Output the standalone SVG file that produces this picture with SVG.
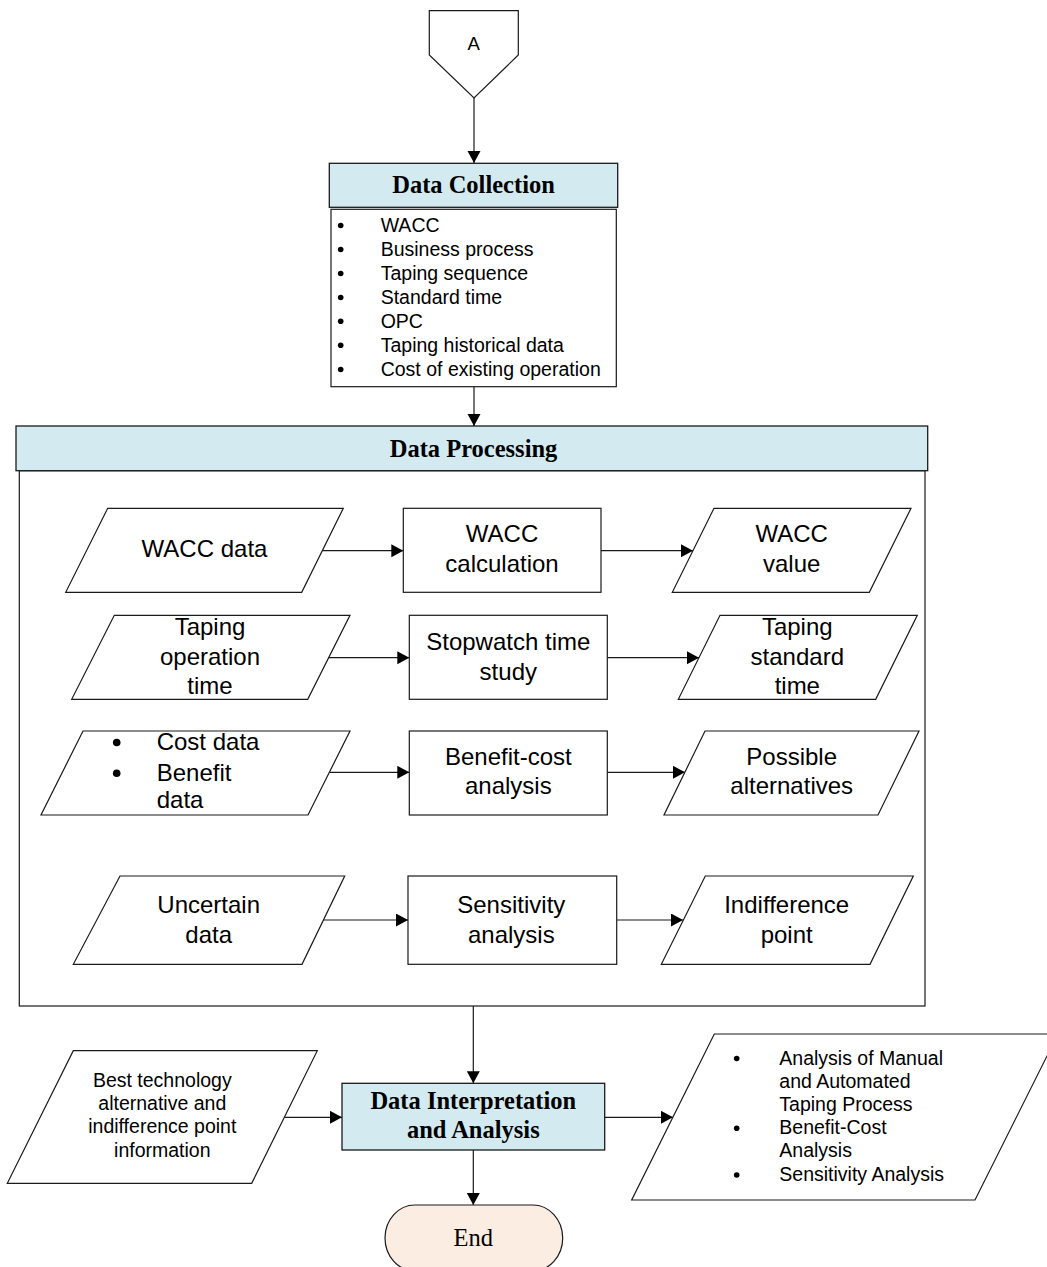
<svg xmlns="http://www.w3.org/2000/svg" width="1047" height="1267" viewBox="0 0 1047 1267">
<style>
.sh{fill:#ffffff;stroke:#1a1a1a;stroke-width:1.2}
.hd{fill:#d3eaf0;stroke:#1a1a1a;stroke-width:1.3}
.t{font-family:"Liberation Sans",Arial,sans-serif;font-size:24px;fill:#000;text-anchor:middle}
.s{font-family:"Liberation Sans",Arial,sans-serif;font-size:19.5px;fill:#000}
.sc{font-family:"Liberation Sans",Arial,sans-serif;font-size:19.5px;fill:#000;text-anchor:middle}
.b{font-family:"Liberation Serif","Times New Roman",serif;font-size:24.5px;font-weight:bold;fill:#000;text-anchor:middle}
.ln{stroke:#1a1a1a;stroke-width:1.2;fill:none;marker-end:url(#ah)}
.dot{fill:#000}
</style>
<defs>
<marker id="ah" markerUnits="userSpaceOnUse" markerWidth="13" markerHeight="14" refX="12" refY="6.5" orient="auto">
<path d="M0,0 L12,6.5 L0,13 z" fill="#000"/>
</marker>
</defs>

<g id="data-processing">
<rect class="sh" x="19.3" y="470.7" width="905.7" height="535.3"/>
<rect class="hd" x="16" y="426" width="911.7" height="44.7"/>
<text class="b" x="473.5" y="456.5">Data Processing</text>
</g>

<g id="connectors">
<line class="ln" x1="474" y1="98" x2="474" y2="163"/>
<line class="ln" x1="474" y1="387" x2="474" y2="426"/>
<line class="ln" x1="322.5" y1="550.7" x2="403.3" y2="550.7"/>
<line class="ln" x1="601" y1="550.7" x2="693" y2="550.7"/>
<line class="ln" x1="329" y1="657.7" x2="409.3" y2="657.7"/>
<line class="ln" x1="607.3" y1="657.7" x2="699" y2="657.7"/>
<line class="ln" x1="330" y1="772.3" x2="409.3" y2="772.3"/>
<line class="ln" x1="607.3" y1="772.3" x2="685" y2="772.3"/>
<line class="ln" x1="323.5" y1="920" x2="408" y2="920"/>
<line class="ln" x1="616.7" y1="920" x2="683" y2="920"/>
<line class="ln" x1="473.3" y1="1006" x2="473.3" y2="1083.3"/>
<line class="ln" x1="284.4" y1="1117.3" x2="342" y2="1117.3"/>
<line class="ln" x1="604.7" y1="1117.3" x2="673" y2="1117.3"/>
<line class="ln" x1="473.3" y1="1150" x2="473.3" y2="1205"/>
</g>

<g id="connector-A">
<polygon class="sh" points="429.3,10.7 518.3,10.7 518.3,55 474,98 429.3,55"/>
<text x="473.7" y="50" style="font-family:'Liberation Sans',Arial,sans-serif;font-size:18.5px;text-anchor:middle">A</text>
</g>

<g id="data-collection">
<rect class="hd" x="329.3" y="163.3" width="288.4" height="44"/>
<text class="b" x="473.5" y="193.3">Data Collection</text>
<rect class="sh" x="331" y="209.3" width="285.3" height="177.4"/>
<circle class="dot" cx="340.7" cy="225.5" r="2.8"/>
<circle class="dot" cx="340.7" cy="249.5" r="2.8"/>
<circle class="dot" cx="340.7" cy="273.5" r="2.8"/>
<circle class="dot" cx="340.7" cy="297.5" r="2.8"/>
<circle class="dot" cx="340.7" cy="321.3" r="2.8"/>
<circle class="dot" cx="340.7" cy="345.3" r="2.8"/>
<circle class="dot" cx="340.7" cy="369.5" r="2.8"/>
<text class="s" x="380.7" y="231.7">WACC</text>
<text class="s" x="380.7" y="255.8">Business process</text>
<text class="s" x="380.7" y="279.8">Taping sequence</text>
<text class="s" x="380.7" y="303.8">Standard time</text>
<text class="s" x="380.7" y="327.7">OPC</text>
<text class="s" x="380.7" y="351.7">Taping historical data</text>
<text class="s" x="380.7" y="375.8">Cost of existing operation</text>
</g>

<g id="wacc-data">
<polygon class="sh" points="107.7,508.3 343.3,508.3 301.7,592.3 65.7,592.3"/>
<text class="t" x="204.5" y="556.7">WACC data</text>
</g>
<g id="wacc-calculation">
<rect class="sh" x="403.3" y="508.3" width="197.7" height="84"/>
<text class="t" x="502" y="542">WACC</text>
<text class="t" x="502" y="572.3">calculation</text>
</g>
<g id="wacc-value">
<polygon class="sh" points="714,508.3 911,508.3 869.3,592.3 672.3,592.3"/>
<text class="t" x="791.7" y="542">WACC</text>
<text class="t" x="791.7" y="572.3">value</text>
</g>

<g id="taping-operation-time">
<polygon class="sh" points="114.3,615.3 350,615.3 307.7,699.3 71.7,699.3"/>
<text class="t" x="210" y="635">Taping</text>
<text class="t" x="210" y="664.5">operation</text>
<text class="t" x="210" y="693.5">time</text>
</g>
<g id="stopwatch">
<rect class="sh" x="409.3" y="615.3" width="198" height="84"/>
<text class="t" x="508.3" y="650">Stopwatch time</text>
<text class="t" x="508.3" y="680">study</text>
</g>
<g id="taping-standard-time">
<polygon class="sh" points="720,615.3 917.3,615.3 875.7,699.3 678.3,699.3"/>
<text class="t" x="797.3" y="635">Taping</text>
<text class="t" x="797.3" y="664.5">standard</text>
<text class="t" x="797.3" y="693.5">time</text>
</g>

<g id="cost-benefit-data">
<polygon class="sh" points="83,731 350,731 308,815 41,815"/>
<circle class="dot" cx="116.7" cy="742.5" r="3.8"/>
<circle class="dot" cx="116.7" cy="773.3" r="3.8"/>
<text class="t" x="156.7" y="750" style="text-anchor:start">Cost data</text>
<text class="t" x="156.7" y="780.5" style="text-anchor:start">Benefit</text>
<text class="t" x="156.7" y="808.3" style="text-anchor:start">data</text>
</g>
<g id="benefit-cost-analysis">
<rect class="sh" x="409.3" y="731" width="198" height="84"/>
<text class="t" x="508.3" y="765">Benefit-cost</text>
<text class="t" x="508.3" y="794">analysis</text>
</g>
<g id="possible-alternatives">
<polygon class="sh" points="705,731 919,731 878,815 664,815"/>
<text class="t" x="791.7" y="765">Possible</text>
<text class="t" x="791.7" y="794">alternatives</text>
</g>

<g id="uncertain-data">
<polygon class="sh" points="120,876 344.7,876 302,964.3 73.3,964.3"/>
<text class="t" x="208.7" y="913">Uncertain</text>
<text class="t" x="208.7" y="943">data</text>
</g>
<g id="sensitivity-analysis">
<rect class="sh" x="408" y="876" width="208.7" height="88.3"/>
<text class="t" x="511.3" y="913">Sensitivity</text>
<text class="t" x="511.3" y="943">analysis</text>
</g>
<g id="indifference-point">
<polygon class="sh" points="705.3,876 913.3,876 870,964.3 661.3,964.3"/>
<text class="t" x="786.7" y="913">Indifference</text>
<text class="t" x="786.7" y="943">point</text>
</g>

<g id="best-technology">
<polygon class="sh" points="73.3,1050.7 317.3,1050.7 251.7,1183.3 7.3,1183.3"/>
<text class="sc" x="162.3" y="1086.5">Best technology</text>
<text class="sc" x="162.3" y="1110">alternative and</text>
<text class="sc" x="162.3" y="1133.3">indifference point</text>
<text class="sc" x="162.3" y="1156.7">information</text>
</g>

<g id="data-interpretation">
<rect class="hd" x="342" y="1083.3" width="262.7" height="66.7"/>
<text class="b" x="473.3" y="1109.3">Data Interpretation</text>
<text class="b" x="473.3" y="1138.3">and Analysis</text>
</g>

<g id="analysis-output">
<polygon class="sh" points="714.3,1034 1058,1034 975,1200 631.7,1200"/>
<circle class="dot" cx="736.7" cy="1058.5" r="2.8"/>
<circle class="dot" cx="736.7" cy="1128.3" r="2.8"/>
<circle class="dot" cx="736.7" cy="1175" r="2.8"/>
<text class="s" x="779.3" y="1065.2">Analysis of Manual</text>
<text class="s" x="779.3" y="1088.4">and Automated</text>
<text class="s" x="779.3" y="1111">Taping Process</text>
<text class="s" x="779.3" y="1134">Benefit-Cost</text>
<text class="s" x="779.3" y="1157.3">Analysis</text>
<text class="s" x="779.3" y="1180.7">Sensitivity Analysis</text>
</g>

<g id="end">
<rect x="385" y="1205" width="177.7" height="66" rx="30" ry="33" style="fill:#fcede2;stroke:#1a1a1a;stroke-width:1.2"/>
<text x="473.3" y="1246" style="font-family:'Liberation Serif','Times New Roman',serif;font-size:24.5px;text-anchor:middle">End</text>
</g>
</svg>
